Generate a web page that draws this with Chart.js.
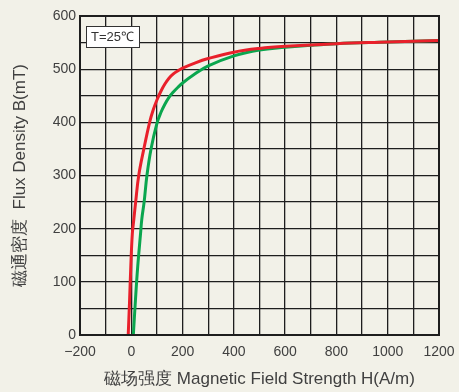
<!DOCTYPE html>
<html>
<head>
<meta charset="utf-8">
<script src="https://cdn.jsdelivr.net/npm/chart.js@4.4.1/dist/chart.umd.min.js"></script>
<style>
  html, body { margin: 0; padding: 0; background: #f2f1e8; }
  #wrap { width: 459px; height: 392px; position: relative; }
</style>
</head>
<body>
<div id="wrap"><canvas id="chart"></canvas></div>
<script>
// curva B-H
const redH = [-12, -7, -2, 4, 10, 17, 29, 49, 72, 86, 100, 115, 131, 147, 164, 182, 200, 250, 300, 400, 500, 600, 800, 1000, 1200];
const redB = [0, 60, 128, 190, 218, 250, 300, 350, 401, 424, 442, 458, 472, 483, 491, 497, 502, 512, 520, 532, 539, 543, 548, 551, 554];

const greenH = [8, 16, 25, 36, 41, 50, 61, 77, 100, 115, 131, 147, 164, 182, 200, 242, 300, 400, 500, 600, 700, 800, 1000, 1200];
const greenB = [0, 64, 128, 190, 218, 250, 300, 350, 398, 418, 434, 447, 457, 466, 474, 489, 506, 525, 536, 541, 545, 548, 551, 554];

const xLabelTicks = [-200, 0, 200, 400, 600, 800, 1000, 1200];
const yLabelTicks = [0, 100, 200, 300, 400, 500, 600];
const tempLabel = 'T=25\u2103';

function toPoints(xs, ys) {
    return xs.map((x, i) => ({ x: x, y: ys[i] }));
}

const fontFamily = '"Liberation Sans", Arial, sans-serif';
const gridColor = '#1e1e1e';
const textColor = '#404040';

// moldura e caixa da temperatura
const framePlugin = {
    id: 'frame',
    afterDraw(chart) {
        const ctx = chart.ctx;
        const a = chart.chartArea;
        ctx.save();
        ctx.strokeStyle = gridColor;
        ctx.lineWidth = 2;
        ctx.strokeRect(a.left, a.top, a.right - a.left, a.bottom - a.top);

        // caixa T=25
        ctx.font = '13px ' + fontFamily;
        const w = ctx.measureText(tempLabel).width + 10;
        const bx = 86, by = 26, bh = 21;
        ctx.fillStyle = '#ffffff';
        ctx.fillRect(bx, by, w, bh);
        ctx.lineWidth = 1;
        ctx.strokeStyle = '#333';
        ctx.strokeRect(bx + 0.5, by + 0.5, w, bh);
        ctx.fillStyle = '#333';
        ctx.textBaseline = 'middle';
        ctx.fillText(tempLabel, bx + 5, by + bh / 2 + 1);
        ctx.restore();
    }
};

const ctx = document.getElementById('chart');
new Chart(ctx, {
    type: 'scatter',
    data: {
        datasets: [
            {
                data: toPoints(redH, redB),
                showLine: true,
                borderColor: '#e9202b',
                borderWidth: 3,
                pointRadius: 0,
                tension: 0.4
            },
            {
                data: toPoints(greenH, greenB),
                showLine: true,
                borderColor: '#0aa64e',
                borderWidth: 3,
                pointRadius: 0,
                tension: 0.4
            }
        ]
    },
    options: {
        responsive: true,
        maintainAspectRatio: false,
        animation: false,
        layout: { padding: { top: 16, right: 20, left: 0, bottom: 0 } },
        plugins: {
            legend: { display: false },
            tooltip: { enabled: false }
        },
        scales: {
            x: {
                type: 'linear',
                min: -200,
                max: 1200,
                afterFit(scale) {
                    scale.height = 57;
                    scale.paddingRight = 0;
                    scale.paddingLeft = 0;
                },
                grid: { color: gridColor, lineWidth: 1.3, drawTicks: false },
                border: { display: false },
                ticks: {
                    stepSize: 100,
                    padding: 9,
                    color: textColor,
                    font: { family: fontFamily, size: 14 },
                    maxRotation: 0,
                    autoSkip: false,
                    callback: (v) => xLabelTicks.includes(v) ? (v < 0 ? '\u2212' + Math.abs(v) : String(v)) : ''
                },
                title: {
                    display: true,
                    text: '磁场强度 Magnetic Field Strength H(A/m)',
                    color: textColor,
                    font: { family: fontFamily, size: 17 },
                    padding: { top: 8, bottom: 2 }
                }
            },
            y: {
                min: 0,
                max: 600,
                afterFit(scale) { scale.width = 80; },
                grid: { color: gridColor, lineWidth: 1.3, drawTicks: false },
                border: { display: false },
                ticks: {
                    stepSize: 50,
                    padding: 4,
                    color: textColor,
                    font: { family: fontFamily, size: 14 },
                    autoSkip: false,
                    callback: (v) => yLabelTicks.includes(v) ? String(v) : ''
                },
                title: {
                    display: true,
                    text: '磁通密度  Flux Density B(mT)',
                    color: textColor,
                    font: { family: fontFamily, size: 17 },
                    padding: { top: 10, bottom: 0 }
                }
            }
        }
    },
    plugins: [framePlugin]
});
</script>
</body>
</html>
